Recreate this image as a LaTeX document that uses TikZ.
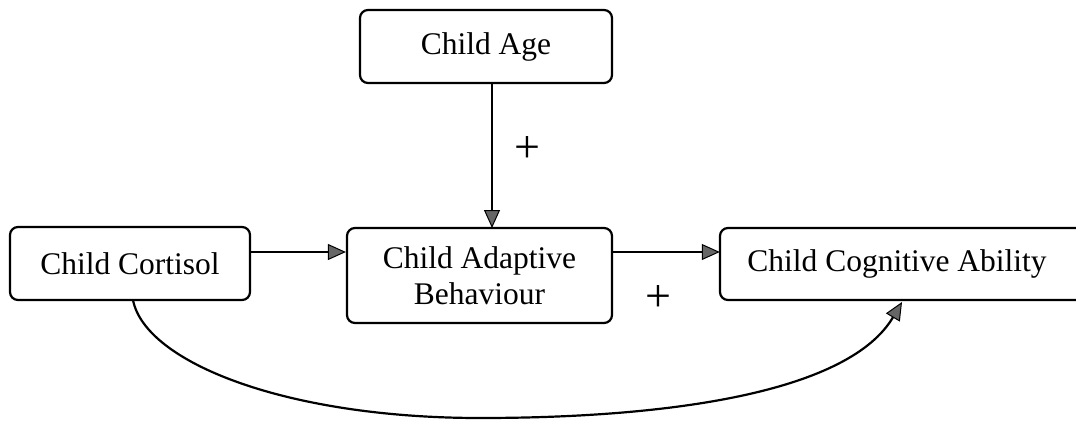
\documentclass[tikz,border=0pt]{standalone}
\usepackage{fontspec}
\setmainfont{Liberation Serif}
\usetikzlibrary{arrows.meta}
\begin{document}
\begin{tikzpicture}[x=1pt,y=-1pt,
  box/.style={draw=black,line width=2.2pt,rounded corners=8pt,inner sep=0pt,font=\fontsize{31.5}{36}\selectfont,align=center},
  conn/.style={line width=2.2pt,-{Triangle[length=18pt,width=16pt,fill=black!60,line width=1pt]}},
  sign/.style={font=\fontsize{46}{46}\selectfont}]
\useasboundingbox (0,0) rectangle (1076,421);
\node[box,minimum width=252pt,minimum height=73pt] (age) at (486,46.5) {Child Age};
\node[box,minimum width=240pt,minimum height=73pt] (cort) at (130,263.5) {Child Cortisol};
\node[box,minimum width=265pt,minimum height=95pt] (adapt) at (479.5,275.5) {Child Adaptive\\Behaviour};
\node[draw=none,inner sep=0pt,minimum width=354pt,minimum height=72pt,font=\fontsize{31.5}{36}\selectfont] (cog) at (897,264) {Child Cognitive Ability};
\draw[line width=2.2pt,rounded corners=8pt] (1080,228) -- (720,228) -- (720,300) -- (1080,300);
\coordinate (agebot) at (492,83);
\coordinate (adtop) at (492,228);
\draw[conn] (agebot) -- (adtop);
\draw[conn] (cort.east |- 0,252) -- (adapt.west |- 0,252);
\draw[conn] (adapt.east |- 0,252) -- (cog.west |- 0,252);
\coordinate (cstart) at (133,300);
\coordinate (cmid) at (480,418);
\coordinate (cend) at (902,302);
\draw[conn] (cstart) .. controls (145,362) and (285,418) .. (cmid) .. controls (680,418) and (850,390) .. (cend);
\node[sign] (p1) at (527,150) {+};
\node[sign] (p2) at (658,298) {+};
\end{tikzpicture}
\end{document}
